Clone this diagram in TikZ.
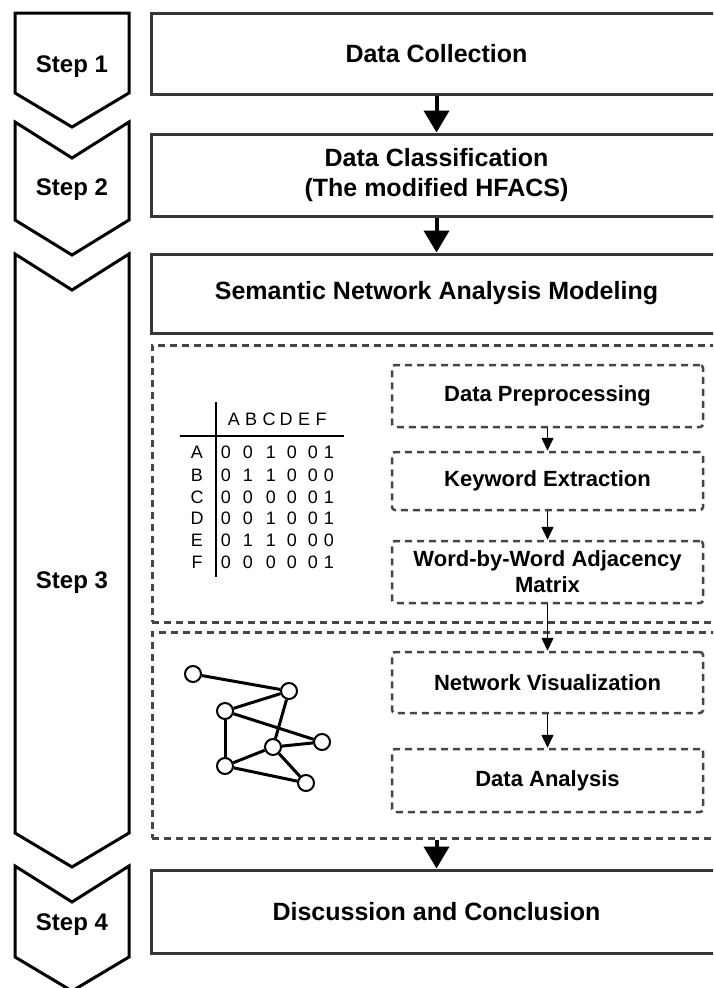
\documentclass[tikz,border=0pt]{standalone}
\usepackage{fontspec}
\setmainfont{Liberation Sans}
\usetikzlibrary{positioning,arrows.meta}
\definecolor{linegray}{RGB}{55,55,55}
\definecolor{dashgray}{RGB}{70,70,70}
\tikzset{
  bigarrow/.style={-{Triangle[length=22pt,width=25pt]}, line width=4pt, draw=black},
  smallarrow/.style={-{Triangle[length=13pt,width=12pt]}, line width=1.5pt, draw=black},
  stepshape/.style={draw=black, line width=3pt, fill=white},
  steplabel/.style={font=\fontsize{24}{28}\selectfont\bfseries},
  mainbox/.style={
    draw=linegray,
    line width=3pt,
    rectangle,
    minimum width=571pt,
    align=center,
    inner sep=0pt,
    font=\fontsize{25}{30}\selectfont\bfseries
  },
  group/.style={
    draw=dashgray,
    line width=3pt,
    dash pattern=on 7pt off 5pt,
    rectangle,
    minimum width=570pt,
    inner sep=0pt
  },
  substep/.style={
    draw=dashgray,
    line width=2.5pt,
    dash pattern=on 7pt off 5pt,
    rounded corners=3pt,
    rectangle,
    minimum width=311pt,
    align=center,
    inner sep=0pt,
    font=\fontsize{22}{26}\selectfont\bfseries
  },
  cell/.style={font=\fontsize{18}{20}\selectfont, inner sep=0pt},
  vertex/.style={circle, draw=black, line width=2pt, fill=white, minimum size=16pt, inner sep=0pt},
  link/.style={line width=3pt, draw=black}
}

\begin{document}
\begin{tikzpicture}[x=1pt,y=-1pt]

\clip (0,0) rectangle (713,988);

% Step chevrons on the left
\foreach \top/\notch/\side/\tip/\num/\ylab in {13/13/93/127/1/67, 122/158/220/255/2/190,
    254/290/833/867/3/583, 866/902/957/991/4/925} {
  \draw[stepshape] (15,\top) -- (72,\notch) -- (129,\top) -- (129,\side)
    -- (72,\tip) -- (15,\side) -- cycle;
  \node[steplabel] (step\num) at (72,\ylab) {Step \num};
}

% Main boxes
\node[mainbox, minimum height=81pt] (collect) at (436.5,53.5) {Data Collection};
\node[mainbox, minimum height=82pt] (classify) at (436.5,175)
  {Data Classification\\(The modified HFACS)};
\node[mainbox, minimum height=79pt] (semantic) at (436.5,293.5)
  {Semantic Network Analysis Modeling};
\node[mainbox, minimum height=83pt] (discuss) at (436.5,911.5)
  {Discussion and Conclusion};

% Dashed groups
\node[group, minimum height=277pt] (sna1) at (437,483.5) {};
\node[group, minimum height=206pt] (sna2) at (437,735) {};

% Sub-steps
\node[substep, minimum height=62pt] (prep) at (547.5,396) {Data Preprocessing};
\node[substep, minimum height=58pt] (keyword) at (547.5,481) {Keyword Extraction};
\node[substep, minimum height=62pt] (adjacency) at (547.5,572)
  {Word-by-Word Adjacency\\Matrix};
\node[substep, minimum height=61pt] (netvis) at (547.5,682.5) {Network Visualization};
\node[substep, minimum height=63pt] (analysis) at (547.5,780.5) {Data Analysis};

% Arrows
\draw[bigarrow] (collect) -- (classify);
\draw[bigarrow] (classify) -- (semantic);
\draw[bigarrow] (discuss.north |- sna2.south) -- (discuss.north);
\foreach \a/\b in {prep/keyword, keyword/adjacency, adjacency/netvis, netvis/analysis} {
  \draw[smallarrow] (\a) -- (\b);
}

% Adjacency matrix
\draw[line width=2.5pt] (216,402) -- (216,577);
\draw[line width=2.5pt] (180,436) -- (344,436);
\foreach \h [count=\c] in {A,B,C,D,E,F} {
  \pgfmathsetmacro\colx{{234,251,269,286,304,321}[\c-1]}
  \node[cell] (head\h) at (\colx,419) {\h};
}
\foreach \r/\y/\vals in {A/452/{0,0,1,0,0,1}, B/475/{0,1,1,0,0,0}, C/497/{0,0,0,0,0,1},
    D/518/{0,0,1,0,0,1}, E/540/{0,1,1,0,0,0}, F/562/{0,0,0,0,0,1}} {
  \node[cell] (row\r) at (197,\y) {\r};
  \foreach \v [count=\c] in \vals {
    \pgfmathsetmacro\colx{{226,248,271,292,313,329}[\c-1]}
    \node[cell] at (\colx,\y) {\v};
  }
}

% Small network
\foreach \n/\x/\y in {1/193/674, 2/289/691, 3/225/711, 4/322/742,
    5/273/747, 6/225/766, 7/306/783} {
  \node[vertex] (v\n) at (\x,\y) {};
}
\foreach \a/\b in {1/2, 2/3, 2/5, 3/4, 3/6, 5/4, 6/5, 6/7, 5/7} {
  \draw[link] (v\a) -- (v\b);
}

\end{tikzpicture}
\end{document}
